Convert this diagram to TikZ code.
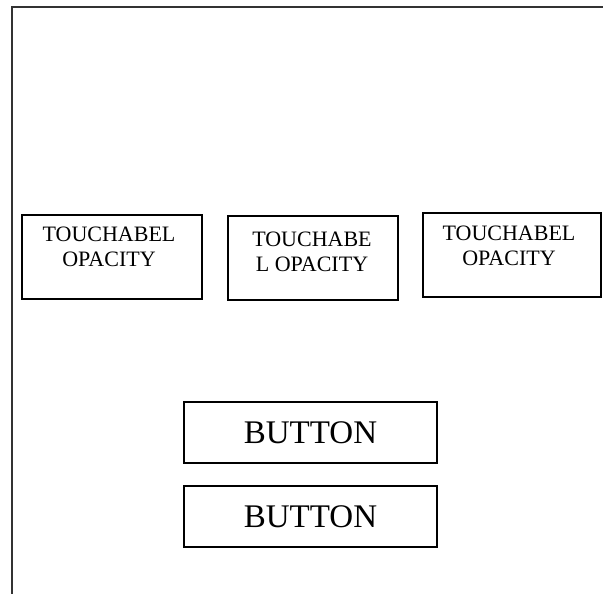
\documentclass[tikz,border=0pt]{standalone}
\usepackage{fontspec}
\setmainfont{Liberation Serif}
\tikzset{
  tbox/.style={draw, line width=1.4pt, inner sep=0pt},
  ttext/.style={align=center, font=\fontsize{22}{25}\selectfont, inner sep=0pt},
  btext/.style={font=\fontsize{33}{36}\selectfont}
}
\begin{document}
\begin{tikzpicture}[x=1pt, y=-1pt]
 \useasboundingbox (0,0) rectangle (603,594);
 % outer frame
 \draw[line width=2.2pt, black!80] (12,594) -- (12,7) -- (603,7);
 % touchable boxes
 \node[tbox, minimum width=180pt, minimum height=84pt] (touch1) at (112,257) {};
 \node[ttext] (label1) at (109,246.5) {TOUCHABEL\\OPACITY};
 \node[tbox, minimum width=170pt, minimum height=84pt] (touch2) at (313,258) {};
 \node[ttext] (label2) at (312,251.5) {TOUCHABE\\L OPACITY};
 \node[tbox, minimum width=178pt, minimum height=84pt] (touch3) at (512,255) {};
 \node[ttext] (label3) at (509,245.5) {TOUCHABEL\\OPACITY};
 % buttons
 \node[tbox, btext, minimum width=253pt, minimum height=61pt] (button1) at (310.5,432.5) {BUTTON};
 \node[tbox, btext, minimum width=253pt, minimum height=61pt] (button2) at (310.5,516.5) {BUTTON};
\end{tikzpicture}
\end{document}
